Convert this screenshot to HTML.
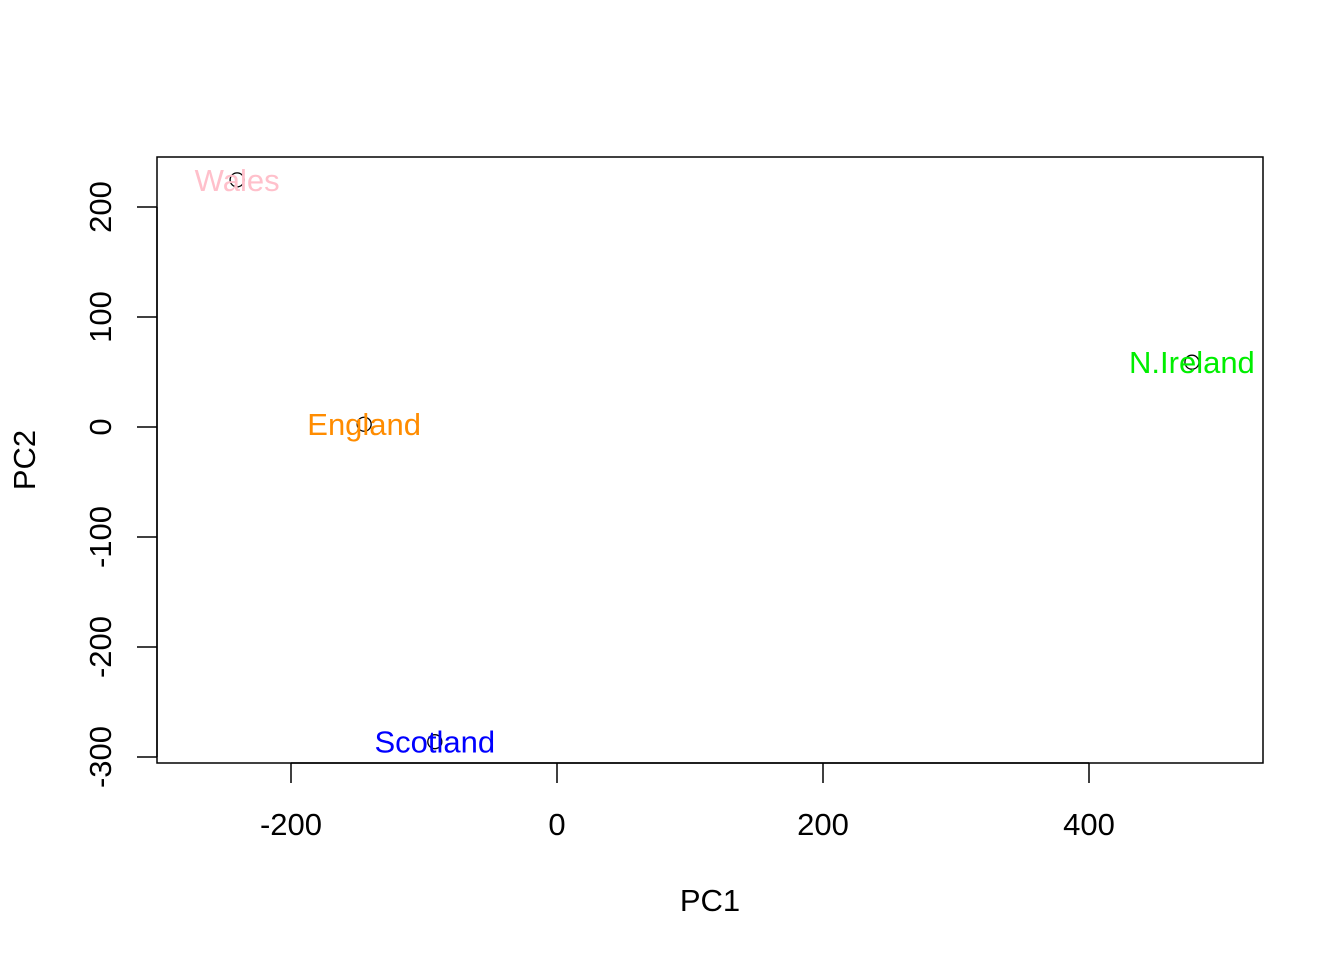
<!DOCTYPE html>
<html><head><meta charset="utf-8"><style>
body{margin:0;background:#fff;}
svg text{font-family:"Liberation Sans",Arial,sans-serif;}
</style></head><body>
<svg id="chart" width="1344" height="960">
<rect x="157" y="157" width="1106" height="606" fill="none" stroke="#000" stroke-width="1.5"/>
<g id="xaxis"></g>
<g id="yaxis"></g>
<g id="marks"></g>
<text x="710" y="911" font-size="31" text-anchor="middle">PC1</text>
<text x="35" y="460" font-size="31" text-anchor="middle" transform="rotate(-90 35 460)">PC2</text>
</svg>
<script>
const countries=["England","Wales","Scotland","N.Ireland"];
const pc1=[-144.99,-240.53,-91.87,477.39];
const pc2=[2.53,224.65,-286.08,58.90];
const colors=["darkorange","pink","blue","#00ee00"];
const xTicks=[-200,0,200,400];
const yTicks=[-300,-200,-100,0,100,200];
const NS="http://www.w3.org/2000/svg";
function sx(v){return 557+v*1.33;}
function sy(v){return 427-v*1.1;}
function mk(tag,attrs,parent){const e=document.createElementNS(NS,tag);for(const k in attrs)e.setAttribute(k,attrs[k]);parent.appendChild(e);return e;}
const xa=document.getElementById('xaxis'),ya=document.getElementById('yaxis'),mg=document.getElementById('marks');
mk('line',{x1:sx(xTicks[0]),x2:sx(xTicks[xTicks.length-1]),y1:763,y2:763,stroke:'#000','stroke-width':1.5},xa);
xTicks.forEach(t=>{
 const l=mk('line',{x1:sx(t),x2:sx(t),y1:763,y2:783,stroke:'#000','stroke-width':1.5},xa);
 
 
 const tx=mk('text',{x:sx(t),y:835,'font-size':31,'text-anchor':'middle'},xa);tx.textContent=t;
 
 
});
mk('line',{x1:157,x2:157,y1:sy(yTicks[0]),y2:sy(yTicks[yTicks.length-1]),stroke:'#000','stroke-width':1.5},ya);
yTicks.forEach(t=>{
 const y=sy(t);
 const l=mk('line',{x1:137,x2:157,y1:y,y2:y,stroke:'#000','stroke-width':1.5},ya);
 
 
 const tx=mk('text',{x:111,y:y,'font-size':31,'text-anchor':'middle',transform:`rotate(-90 111 ${y})`},ya);tx.textContent=t;
 
 
});
countries.forEach((c,i)=>{
 const x=sx(pc1[i]),y=sy(pc2[i]);
 const p=mk('circle',{cx:x,cy:y,r:7,fill:'none',stroke:'#000','stroke-width':1.3},mg);
 
 
 const t=mk('text',{x:x,y:y+11,'font-size':31,'text-anchor':'middle',fill:colors[i]},mg);t.textContent=c;
 
 
});
</script>
</body></html>
